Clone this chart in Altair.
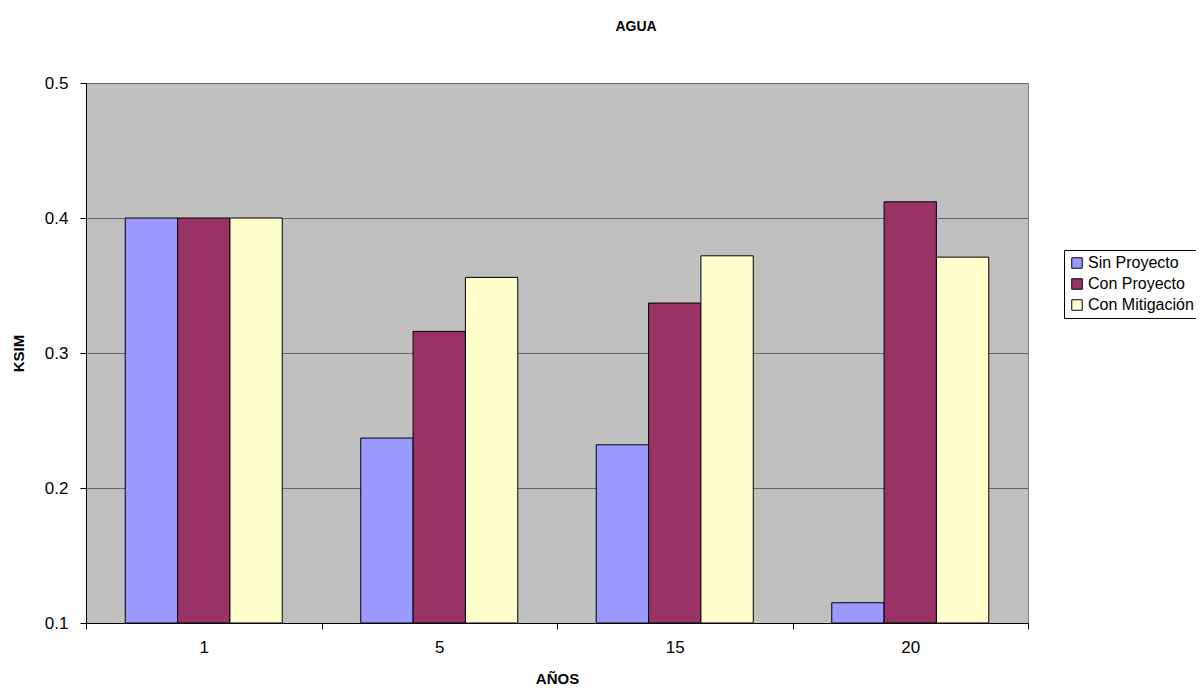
import altair as alt
import pandas as pd

years = ["1", "5", "15", "20"]
series = ["Sin Proyecto", " Con Proyecto", "Con Mitigación"]
sin_proyecto = [0.400, 0.237, 0.232, 0.115]
con_proyecto = [0.400, 0.316, 0.337, 0.412]
con_mitigacion = [0.400, 0.356, 0.372, 0.371]
colors = ["#9999FF", "#993366", "#FFFFCC"]
y_ticks = [0.1, 0.2, 0.3, 0.4, 0.5]

rows = []
for name, vals in zip(series, [sin_proyecto, con_proyecto, con_mitigacion]):
    for yr, v in zip(years, vals):
        rows.append({"year": yr, "serie": name, "ksim": v})
df = pd.DataFrame(rows)

FONT = "Liberation Sans"

chart = alt.Chart(df).mark_bar(stroke="black", strokeWidth=1).encode(
    x=alt.X("year:N", sort=years,
            scale=alt.Scale(paddingInner=0, paddingOuter=0),
            axis=alt.Axis(title="AÑOS", labelAngle=0, tickBand="extent",
                          domainColor="#000000", tickColor="#000000", tickSize=6,
                          labelPadding=10, labelFontSize=17, labelColor="#000000",
                          titleFontSize=15, titleFontWeight="bold", titleColor="#000000",
                          titleY=63, titleBaseline="bottom", grid=False)),
    xOffset=alt.XOffset("serie:N", sort=series,
                        scale=alt.Scale(paddingInner=0, paddingOuter=0.75)),
    y=alt.Y("ksim:Q", scale=alt.Scale(domain=[0.1, 0.5], zero=False, nice=False),
            axis=alt.Axis(title="KSIM", values=y_ticks, format=".1f",
                          domainColor="#000000", tickColor="#000000", tickSize=6,
                          labelPadding=12, labelFontSize=17, labelColor="#000000",
                          titleFontSize=15, titleFontWeight="bold", titleColor="#000000",
                          titleX=-60, titleY=270,
                          grid=True, gridColor="#666666", gridWidth=1)),
    y2=alt.datum(0.1),
    color=alt.Color("serie:N", sort=series,
                    scale=alt.Scale(domain=series, range=colors),
                    legend=alt.Legend(title=None, orient="none", legendX=978, legendY=167,
                                      symbolType="square", symbolSize=110,
                                      symbolStrokeColor="black", symbolStrokeWidth=1,
                                      labelFontSize=16, labelColor="#000000", labelOffset=3,
                                      strokeColor="#000000", padding=5, rowPadding=5,
                                      fillColor="white", labelLimit=200)),
).properties(
    width=942, height=540,
    title=alt.TitleParams("AGUA", fontSize=14, fontWeight="bold", font=FONT,
                          color="#000000", anchor="middle", dx=79, offset=40),
    autosize=alt.AutoSizeParams(type="none"),
    padding={"left": 78, "top": 75, "right": 168, "bottom": 63},
).configure(font=FONT).configure_view(
    fill="#C0C0C0", stroke="#808080", strokeWidth=1
).configure_axis(labelFont=FONT, titleFont=FONT).configure_legend(labelFont=FONT)

chart.save("out.html", embed_options={"renderer": "svg", "actions": False})
